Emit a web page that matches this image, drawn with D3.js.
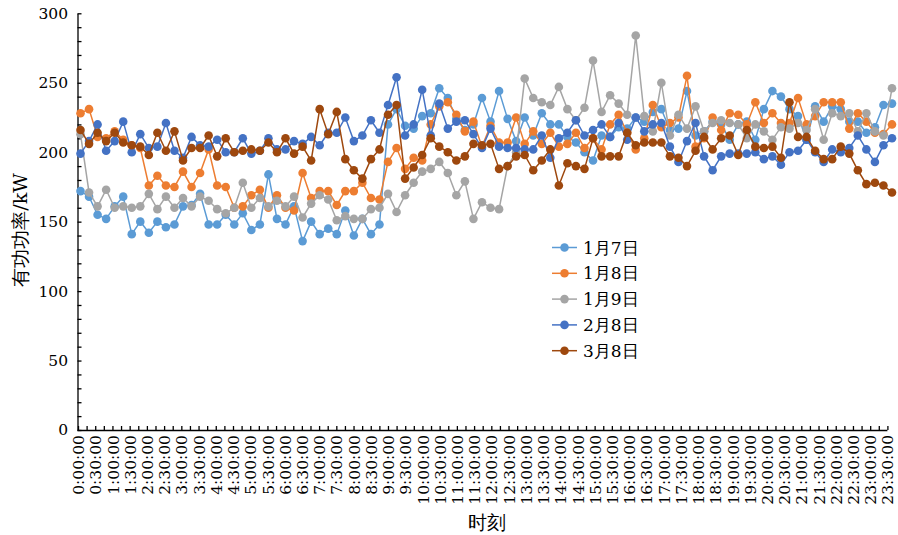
<!DOCTYPE html>
<html><head><meta charset="utf-8">
<script src="https://cdn.jsdelivr.net/npm/d3@7"></script>
<style>body{margin:0;background:#fff}</style></head>
<body><svg id="c" width="898" height="535"></svg>
<script>
const timeLabels = ["0:00:00","0:30:00","1:00:00","1:30:00","2:00:00","2:30:00","3:00:00","3:30:00","4:00:00","4:30:00","5:00:00","5:30:00","6:00:00","6:30:00","7:00:00","7:30:00","8:00:00","8:30:00","9:00:00","9:30:00","10:00:00","10:30:00","11:00:00","11:30:00","12:00:00","12:30:00","13:00:00","13:30:00","14:00:00","14:30:00","15:00:00","15:30:00","16:00:00","16:30:00","17:00:00","17:30:00","18:00:00","18:30:00","19:00:00","19:30:00","20:00:00","20:30:00","21:00:00","21:30:00","22:00:00","22:30:00","23:00:00","23:30:00"];
const yTicks = [0,50,100,150,200,250,300];
const seriesNames = ["1月7日","1月8日","1月9日","2月8日","3月8日"];
const jan7 = [172,168,155,152,161,168,141,150,142,150,146,148,161,162,170,148,148,155,148,156,144,148,184,152,148,161,136,150,141,145,141,158,140,152,141,148,220,231,219,217,226,228,246,239,224,216,220,239,222,244,224,208,225,212,228,220,220,211,207,200,194,212,211,218,217,225,222,229,231,216,217,244,212,215,222,220,209,220,222,209,231,244,240,231,226,209,233,222,233,231,222,222,214,218,234,235];
const jan8 = [228,231,211,210,215,209,205,203,176,183,176,175,186,175,185,202,176,175,160,161,169,173,160,169,160,158,185,167,172,172,162,172,172,178,167,166,193,203,188,196,194,220,233,236,227,215,222,204,219,207,207,225,206,215,206,214,204,206,214,203,210,202,220,227,214,202,210,234,218,221,225,255,204,210,225,216,228,227,220,236,221,228,221,221,239,220,226,236,236,236,217,228,222,214,213,220];
const jan9 = [213,171,161,173,160,161,160,161,170,159,168,160,167,161,168,165,159,156,160,178,160,167,161,165,161,168,153,163,169,166,151,154,152,152,159,160,170,157,169,178,186,188,193,185,169,179,152,164,160,159,190,200,253,239,236,234,247,231,223,232,266,229,241,235,227,284,226,215,250,212,227,217,233,215,221,223,221,220,210,220,215,209,218,217,221,216,231,209,228,226,228,215,228,215,212,246];
const feb8 = [199,208,220,201,208,222,200,213,203,204,221,201,196,211,205,204,209,200,200,210,199,201,210,202,202,208,206,211,205,214,214,225,208,212,223,214,234,254,212,220,245,212,235,217,222,223,213,203,217,204,203,203,202,202,212,196,210,214,223,212,216,220,211,221,209,225,215,220,221,204,193,208,221,197,187,197,199,199,199,200,195,197,191,200,201,209,200,193,202,200,203,212,202,193,205,210];
const mar8 = [216,206,214,208,214,207,205,204,198,214,201,215,194,203,203,212,197,210,200,201,202,201,207,200,210,199,204,194,231,213,229,195,187,181,195,202,227,234,181,189,198,210,204,200,194,197,206,205,206,188,190,197,198,187,194,202,176,192,190,188,210,197,197,197,214,205,207,207,207,197,196,190,201,211,202,210,212,198,216,204,203,204,196,236,211,211,201,195,195,204,199,187,177,178,176,171];
const seriesData = [jan7, jan8, jan9, feb8, mar8];
const colors = ["#5B9BD5","#ED7D31","#A5A5A5","#4472C4","#9E480E"];

const svg = d3.select("#c");
const F = "DejaVu Serif";

const y = d3.scaleLinear().domain([0,300]).range([430,13.3]);
const xa = d3.scaleLinear().domain([0,94]).range([78,887.4]);
const x = d3.scaleLinear().domain([0,95]).range([80.5,892]);

const yAxis = d3.axisLeft(y).tickValues(d3.range(0,301,10)).tickSizeInner(-4).tickSizeOuter(0)
  .tickFormat(d => yTicks.includes(d) ? String(d) : "");
const gy = svg.append("g").attr("transform","translate(77.5,0)").call(yAxis);
gy.attr("font-family",F).attr("font-size",15.5);
gy.selectAll("text").attr("x",-9.5).attr("fill","#000");
gy.selectAll("line,path").attr("stroke","#000").attr("stroke-width",1.3);

const xAxis = d3.axisBottom(xa).tickValues(d3.range(0,95)).tickSizeInner(-4).tickSizeOuter(0)
  .tickFormat(i => i % 2 === 0 ? timeLabels[i/2] : "");
const gx = svg.append("g").attr("transform","translate(0,430)").call(xAxis);
gx.attr("font-family",F).attr("font-size",15.5);
gx.selectAll("text").attr("y",0).attr("x",-5).attr("dy","0.36em").attr("transform","rotate(-90)")
  .attr("text-anchor","end").attr("fill","#000");
gx.selectAll("line,path").attr("stroke","#000").attr("stroke-width",1.3);
gx.select("path.domain").attr("d","M77.5,0.5H887.4");

const line = d3.line().x((d,i)=>x(i)).y(d=>y(d));
seriesData.forEach((data, k) => {
  const g = svg.append("g");
  g.append("path").datum(data).attr("d",line).attr("fill","none").attr("stroke",colors[k]).attr("stroke-width",1.5);
  g.selectAll("circle").data(data).join("circle").attr("cx",(d,i)=>x(i)).attr("cy",d=>y(d)).attr("r",4.3).attr("fill",colors[k]);
});

const lg = svg.append("g").attr("font-family",F).attr("font-size",17);
seriesNames.forEach((n,k)=>{
  const yy = 247.5 + k*25.8;
  lg.append("line").attr("x1",552).attr("x2",577).attr("y1",yy).attr("y2",yy).attr("stroke",colors[k]).attr("stroke-width",1.5);
  lg.append("circle").attr("cx",564.5).attr("cy",yy).attr("r",4.3).attr("fill",colors[k]);
  lg.append("text").attr("x",583).attr("y",yy).attr("dy","0.36em").text(n).attr("fill","#000");
});

svg.append("text").attr("transform","translate(27,230) rotate(-90)").attr("text-anchor","middle")
  .attr("font-family",F).attr("font-size",19).text("有功功率/kW").attr("fill","#000");
svg.append("text").attr("x",487).attr("y",529).attr("text-anchor","middle")
  .attr("font-family",F).attr("font-size",19).text("时刻").attr("fill","#000");
</script></body></html>
